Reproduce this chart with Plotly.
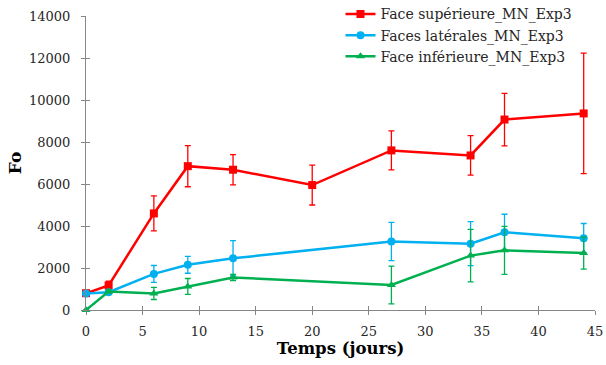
import plotly.graph_objects as go

sup_name = "Face supérieure_MN_Exp3"
sup_days = [0, 2, 6, 9, 13, 20, 27, 34, 37, 44]
sup_vals = [800, 1170, 4600, 6850, 6680, 5950, 7600, 7360, 9070, 9360]
sup_err = [100, 200, 830, 980, 720, 950, 930, 940, 1250, 2870]

lat_name = "Faces latérales_MN_Exp3"
lat_days = [0, 2, 6, 9, 13, 27, 34, 37, 44]
lat_vals = [790, 850, 1720, 2150, 2460, 3260, 3160, 3700, 3420]
lat_err = [60, 80, 400, 400, 840, 910, 1050, 860, 700]

inf_name = "Face inférieure_MN_Exp3"
inf_days = [0, 2, 6, 9, 13, 27, 34, 37, 44]
inf_vals = [0, 880, 790, 1120, 1550, 1190, 2590, 2840, 2710]
inf_err = [30, 80, 290, 380, 150, 900, 1250, 1140, 760]

x_ticks = [0, 5, 10, 15, 20, 25, 30, 35, 40, 45]
y_ticks = [0, 2000, 4000, 6000, 8000, 10000, 12000, 14000]
y_ticktext = ["0", "2000", "4000", "6000", "8000", "10000", "12000", "14000"]

FONT = "DejaVu Serif"
RED, BLUE, GREEN = "#FF0000", "#00B0F0", "#00B050"

fig = go.Figure()

def add(x, y, e, name, color, symbol, size):
    fig.add_trace(go.Scatter(
        x=x, y=y, name=name, mode="lines+markers",
        line=dict(color=color, width=2.5),
        marker=dict(symbol=symbol, size=size, color=color),
        error_y=dict(type="data", array=e, visible=True, color=color,
                     thickness=1.3, width=3),
        cliponaxis=False,
    ))

add(sup_days, sup_vals, sup_err, sup_name, RED, "square", 8)
add(lat_days, lat_vals, lat_err, lat_name, BLUE, "circle", 8)
add(inf_days, inf_vals, inf_err, inf_name, GREEN, "triangle-up", 8)

axis_common = dict(showgrid=False, zeroline=False, showline=True,
                   linecolor="#868686", linewidth=1, tickcolor="#868686",
                   tickwidth=1, automargin=False)

fig.update_layout(
    width=606, height=365,
    margin=dict(l=86, r=11, t=16, b=55, autoexpand=False),
    paper_bgcolor="white", plot_bgcolor="white",
    font=dict(family=FONT, size=13, color="#262626"),
    showlegend=True,
    legend=dict(x=0.5, y=1.06, xanchor="left", yanchor="top",
                bgcolor="rgba(0,0,0,0)", font=dict(family=FONT, size=14, color="#262626"),
                itemwidth=30, tracegroupgap=0),
    xaxis=dict(range=[0, 45], tickvals=x_ticks, ticks="outside", ticklen=4,
               ticklabelstandoff=5,
               title=dict(text="<b>Temps (jours)</b>", font=dict(family=FONT, size=16.5, color="black"), standoff=0),
               **axis_common),
    yaxis=dict(range=[0, 14000], tickvals=y_ticks, ticktext=y_ticktext,
               ticks="outside", ticklen=4, ticklabelstandoff=8,
               title=dict(text="<b>Fo</b>", font=dict(family=FONT, size=17, color="black"), standoff=3),
               **axis_common),
    xaxis2=dict(range=[0, 45], tickvals=x_ticks, ticks="inside", ticklen=4,
                showticklabels=False, overlaying="x", anchor="y", **axis_common),
    yaxis2=dict(range=[0, 14000], tickvals=y_ticks, ticks="inside", ticklen=4,
                showticklabels=False, overlaying="y", anchor="x", **axis_common),
)

fig.add_trace(go.Scatter(x=[0], y=[0], xaxis="x2", yaxis="y2", mode="markers",
                         marker=dict(opacity=0), showlegend=False, hoverinfo="skip"))

fig.write_html("out.html", config={"displayModeBar": False},
               post_script="document.body.style.margin='0';")
